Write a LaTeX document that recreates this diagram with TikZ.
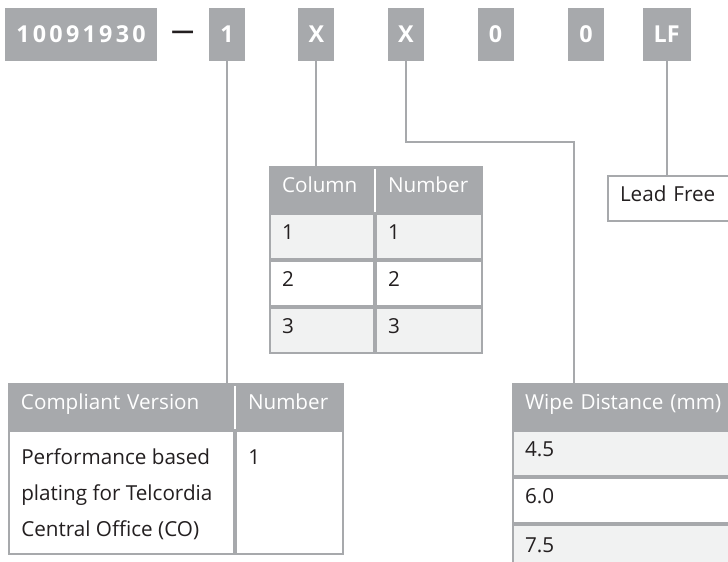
\documentclass[tikz,border=0pt]{standalone}
\usepackage{fontspec}
\setmainfont{Open Sans}
\newfontfamily\codefont[LetterSpace=14]{Open Sans}
\usepackage{tikz}
\usetikzlibrary{positioning}

\definecolor{hdrgrey}{HTML}{A7A9AC}
\definecolor{rowgrey}{HTML}{F1F2F2}
\definecolor{inkdark}{HTML}{231F20}

\newcommand\tablefont{\fontsize{15.5}{27}\selectfont}

\tikzset{
	digit/.style={fill=hdrgrey,text=white,minimum height=39.75pt,minimum width=27pt,inner sep=0pt,font=\fontsize{17.5}{20}\selectfont\bfseries},
	wire/.style={draw=hdrgrey,line width=1.5pt},
	hdcell/.style={fill=hdrgrey,draw=hdrgrey,line width=1.5pt,text=white,anchor=north west,minimum height=33.75pt,inner xsep=9pt,align=left,text height=0.75em,text depth=0.25em,font=\tablefont},
	cell/.style={fill=white,draw=hdrgrey,line width=1.5pt,text=inkdark,anchor=north west,minimum height=33.75pt,inner xsep=9pt,align=left,text height=0.75em,text depth=0.25em,font=\tablefont},
	bodytext/.style={anchor=north west,inner sep=0pt,align=left,text=inkdark,font=\tablefont},
}

\begin{document}
\begin{tikzpicture}[x=0.75pt,y=-0.75pt]
		\clip (0,0) rectangle (728,561);
		
		% part number
		\node[digit,minimum width=114pt,font=\codefont\fontsize{17.5}{20}\selectfont\bfseries] (code) at (81,34.5) {10091930};
		\node[right=7pt of code,text=inkdark,font=\fontsize{17}{20}\selectfont\bfseries] (sep) {—};
		\node[digit,right=7.5pt of sep] (b1) {1};
		\node[digit,right=39.75pt of b1] (x1) {X};
		\node[digit,right=39.75pt of x1] (x2) {X};
		\node[digit,right=39.75pt of x2] (z1) {0};
		\node[digit,right=40.5pt of z1] (z2) {0};
		\node[digit,minimum width=36pt,right=28.5pt of z2] (lf) {LF};
		
		% column table
		\node[hdcell,text width=60pt] (colh1) at (269,166) {Column};
		\node[hdcell,text width=61.5pt] (colh2) at (colh1.north east) {Number};
		\node[cell,fill=rowgrey,text width=60pt] (col1a) at (colh1.south west) {1};
		\node[cell,fill=rowgrey,text width=61.5pt] (col1b) at (col1a.north east) {1};
		\node[cell,text width=60pt] (col2a) at (col1a.south west) {2};
		\node[cell,text width=61.5pt] (col2b) at (col2a.north east) {2};
		\node[cell,fill=rowgrey,text width=60pt] (col3a) at (col2a.south west) {3};
		\node[cell,fill=rowgrey,text width=61.5pt] (col3b) at (col3a.north east) {3};
		\draw[white,line width=1.5pt] ([yshift=-2pt]colh1.north east)--([yshift=1pt]colh1.south east);
		
		% lead free
		\node[cell,text width=81.75pt] (lead) at (607,175) {Lead Free};
		
		% compliant version table
		\node[hdcell,text width=150.75pt] (cvh1) at (8,383) {Compliant Version};
		\node[hdcell,text width=62.25pt] (cvh2) at (cvh1.north east) {Number};
		\node[cell,text width=150.75pt,minimum height=92.25pt] (cv1) at (cvh1.south west) {};
		\node[cell,text width=62.25pt,minimum height=92.25pt] (cv2) at (cv1.north east) {};
		\node[bodytext] (cvt1) at ([xshift=9.75pt,yshift=-14pt]cv1.north west) {Performance based\\plating for Telcordia\\Central Office (CO)};
		\node[bodytext] (cvt2) at ([xshift=9.75pt,yshift=-14.5pt]cv2.north west) {1};
		\draw[white,line width=1.5pt] ([yshift=-2pt]cvh1.north east)--([yshift=1pt]cvh1.south east);
		
		% wipe distance table
		\node[hdcell,text width=153pt] (wph) at (512,383) {Wipe Distance (mm)};
		\node[cell,fill=rowgrey,text width=153pt] (wp1) at (wph.south west) {4.5};
		\node[cell,text width=153pt] (wp2) at (wp1.south west) {6.0};
		\node[cell,fill=rowgrey,text width=153pt,minimum height=40pt,text depth=7pt] (wp3) at (wp2.south west) {7.5};
		
		% connectors
		\coordinate (wbend) at (574,142);
		\draw[wire] (b1.south)--(b1.south |- cvh1.north);
		\draw[wire] (x1.south)--(x1.south |- colh1.north);
		\draw[wire] (x2.south) |- (wbend)--(wbend |- wph.north);
		\draw[wire] (lf.south)--(lf.south |- lead.north);
	\end{tikzpicture}
\end{document}
